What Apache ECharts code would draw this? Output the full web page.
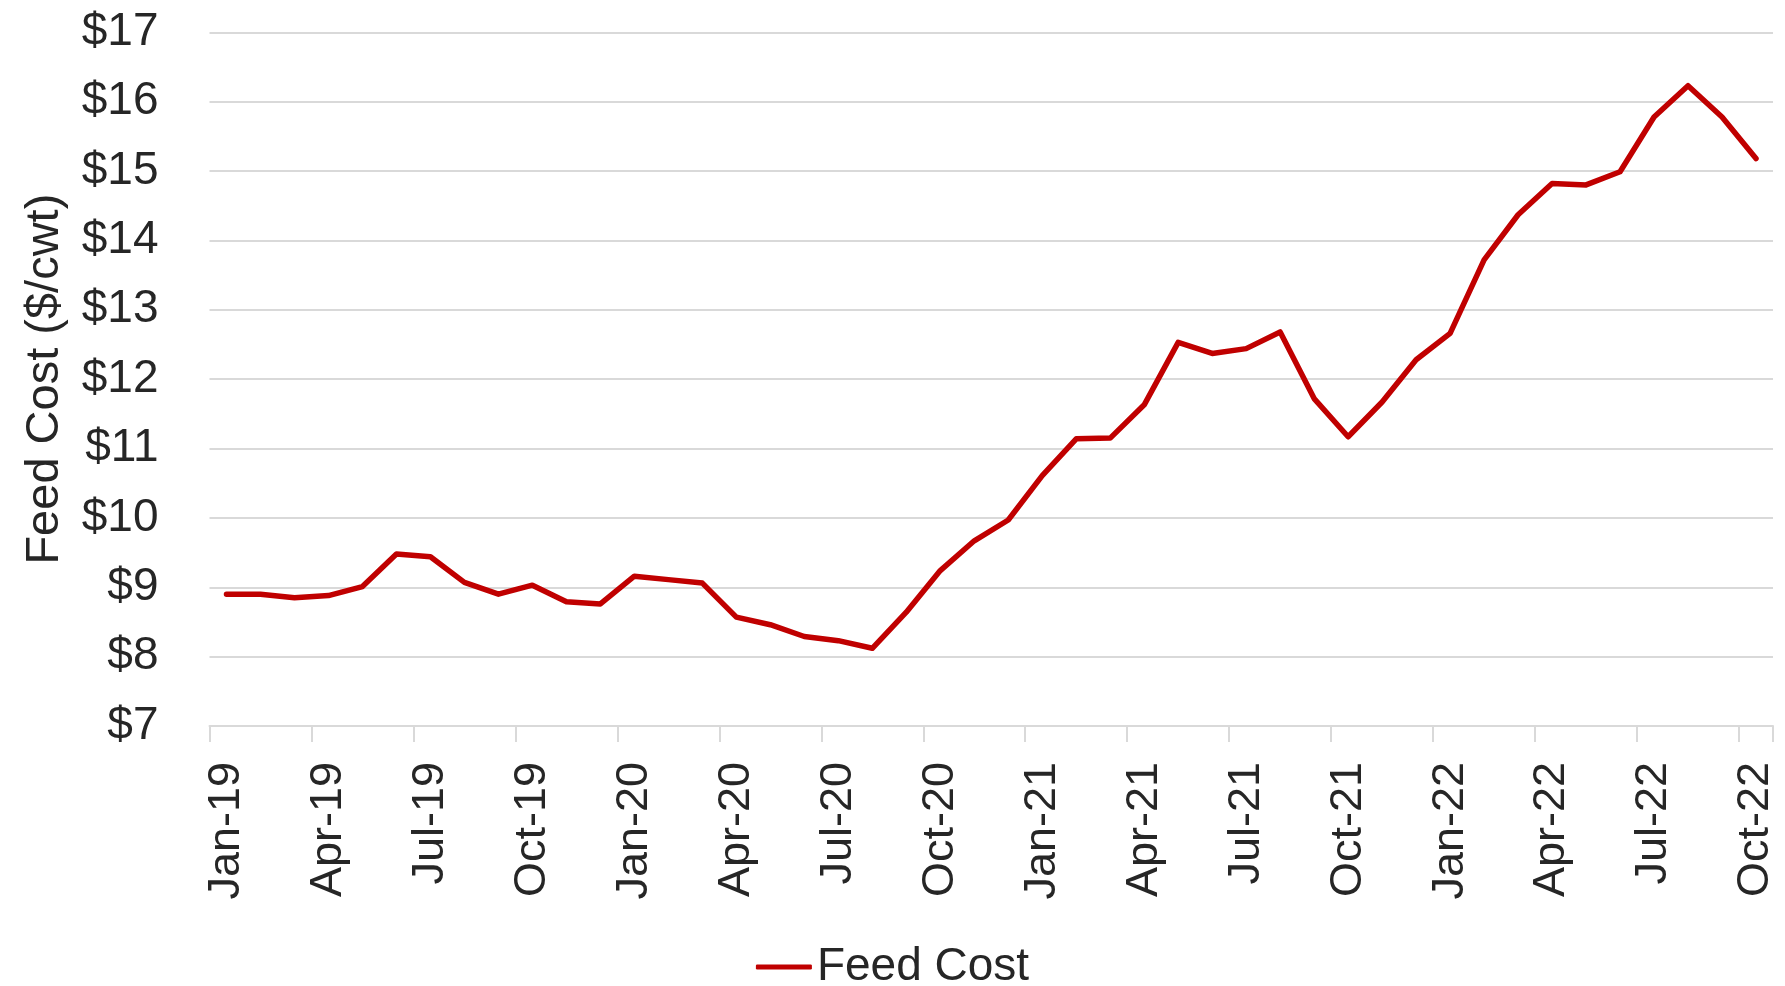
<!DOCTYPE html>
<html>
<head>
<meta charset="utf-8">
<script src="https://cdn.jsdelivr.net/npm/echarts@6/dist/echarts.min.js"></script>
<style>
  html, body { margin: 0; padding: 0; background: #ffffff; }
  #chart { width: 1785px; height: 986px; }
</style>
</head>
<body>
<div id="chart"></div>
<script>
const months = [
  'Jan-19','Feb-19','Mar-19','Apr-19','May-19','Jun-19','Jul-19','Aug-19','Sep-19','Oct-19','Nov-19','Dec-19',
  'Jan-20','Feb-20','Mar-20','Apr-20','May-20','Jun-20','Jul-20','Aug-20','Sep-20','Oct-20','Nov-20','Dec-20',
  'Jan-21','Feb-21','Mar-21','Apr-21','May-21','Jun-21','Jul-21','Aug-21','Sep-21','Oct-21','Nov-21','Dec-21',
  'Jan-22','Feb-22','Mar-22','Apr-22','May-22','Jun-22','Jul-22','Aug-22','Sep-22','Oct-22'
];
const feedCost = [
  8.90, 8.90, 8.85, 8.88, 9.01, 9.48, 9.44, 9.07, 8.90, 9.03, 8.79, 8.76,
  9.16, 9.11, 9.06, 8.57, 8.46, 8.29, 8.23, 8.12, 8.64, 9.24, 9.67, 9.97,
  10.61, 11.14, 11.15, 11.63, 12.53, 12.37, 12.44, 12.68, 11.72, 11.17, 11.67, 12.28,
  12.66, 13.72, 14.37, 14.82, 14.80, 14.99, 15.78, 16.23, 15.78, 15.18
];
const seriesName = 'Feed Cost';
const yTitle = 'Feed Cost ($/cwt)';

const textColor = '#262626';
const gridColor = '#d9d9d9';
const font = '"Liberation Sans", Arial, sans-serif';

const chart = echarts.init(document.getElementById('chart'), null, { renderer: 'canvas' });
chart.setOption({
  animation: false,
  backgroundColor: '#ffffff',
  grid: {
    left: 209.5, right: 12, top: 32.3, bottom: 260,
    containLabel: false,
    outerBoundsMode: 'none'
  },
  legend: {
    data: [seriesName],
    left: 'center',
    top: 944,
    padding: 0,
    itemWidth: 56,
    itemHeight: 5,
    icon: 'roundRect',
    textStyle: { color: textColor, fontSize: 46, fontFamily: font }
  },
  xAxis: {
    type: 'category',
    data: months,
    boundaryGap: true,
    axisLine: { show: true, lineStyle: { color: gridColor, width: 2 } },
    axisTick: { show: true, interval: 2, length: 16, lineStyle: { color: gridColor, width: 2 } },
    axisLabel: {
      interval: 2, rotate: 90, margin: 36,
      color: textColor, fontSize: 45, fontFamily: font
    },
    splitLine: { show: false }
  },
  yAxis: {
    type: 'value',
    min: 7, max: 17, interval: 1,
    name: yTitle,
    nameLocation: 'middle',
    nameRotate: 90,
    nameGap: 141,
    nameTextStyle: { color: textColor, fontSize: 47, fontFamily: font },
    axisLine: { show: false },
    axisTick: { show: false },
    axisLabel: {
      margin: 51, color: textColor, fontSize: 46, fontFamily: font,
      formatter: function (v) { return '$' + v; }
    },
    splitLine: { show: true, lineStyle: { color: gridColor, width: 2 } }
  },
  series: [{
    name: seriesName,
    type: 'line',
    data: feedCost,
    symbol: 'none',
    smooth: false,
    itemStyle: { color: '#C00000' },
    lineStyle: { color: '#C00000', width: 5.5, cap: 'round', join: 'round' }
  }]
});
</script>
</body>
</html>
